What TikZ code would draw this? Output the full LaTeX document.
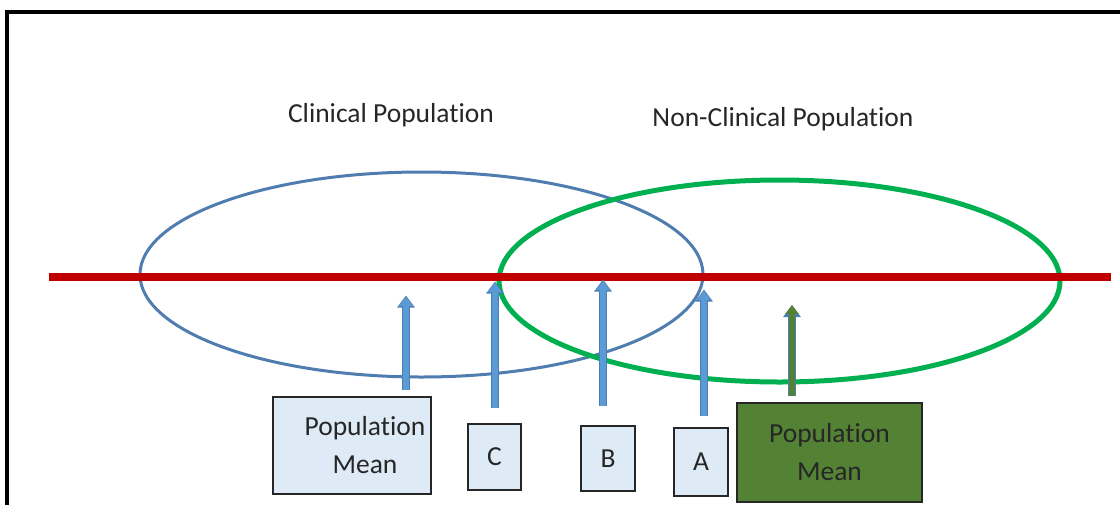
\documentclass[tikz,border=0pt]{standalone}
\usepackage{fontspec}
\setmainfont{Carlito}[Ligatures={NoCommon}]
\usetikzlibrary{arrows.meta}
\definecolor{redline}{HTML}{C00000}
\definecolor{clinblue}{HTML}{4F7DAF}
\definecolor{ncgreen}{HTML}{00B050}
\definecolor{arrowblue}{HTML}{5B9BD5}
\definecolor{arrowedge}{HTML}{4A7EB5}
\definecolor{boxblue}{HTML}{DEEBF7}
\definecolor{meangreen}{HTML}{548235}
\tikzset{
  lbl/.style={font=\fontsize{27.5}{32}\selectfont, text=black!85},
  boxtxt/.style={font=\fontsize{27.5}{38}\selectfont, align=center, text=black!85},
  valbox/.style={draw=black!85, line width=2pt, fill=boxblue, inner sep=0pt},
  shaftedge/.style={draw=arrowedge, line width=8pt, -{Triangle[width=17pt,length=12pt]}},
  shaft/.style={draw=arrowblue, line width=5.5pt, -{Triangle[width=13pt,length=9pt]}},
}
\begin{document}
\begin{tikzpicture}[x=1pt,y=-1pt]
\useasboundingbox (0,0) rectangle (1120,504);
% outer frame (runs off the right and bottom edges)
\draw[line width=3.5pt, black] (1130,12) -- (7,12) -- (7,515);

% titles
\node[lbl] (tclin) at (391,115) {Clinical Population};
\node[lbl] (tnon) at (783,119) {Non-Clinical Population};

% population ellipses
\draw[clinblue, line width=3pt] (421.5,274.5) ellipse [x radius=281.5, y radius=102.5];
\draw[ncgreen, line width=5pt] (779.5,281) ellipse [x radius=280.5, y radius=101];

% axis
\draw[redline, line width=8pt] (49,277) -- (1111,277);

% value boxes
\node[valbox, minimum width=158pt, minimum height=97pt] (pmc) at (352,445.5) {};
\node[boxtxt] (pmctxt) at (365,445.5) {Population\\Mean};
\node[valbox, minimum width=53pt, minimum height=66pt, boxtxt] (bc) at (494.5,457) {C};
\node[valbox, minimum width=54pt, minimum height=65pt, boxtxt] (bb) at (608,458.5) {B};
\node[valbox, minimum width=54pt, minimum height=68pt, boxtxt] (ba) at (701,462) {A};
\node[valbox, fill=meangreen, minimum width=185pt, minimum height=99pt, boxtxt] (pmn) at (829.5,452.5) {Population\\Mean};

% arrow end points
\coordinate (s1) at (406,390);  \coordinate (e1) at (406,297);
\coordinate (sc) at (495,408);  \coordinate (ec) at (495,283);
\coordinate (sb) at (603,406);  \coordinate (eb) at (603,281);
\coordinate (sa) at (704,416);  \coordinate (ea) at (704,291);
\coordinate (sn) at (792,396);  \coordinate (en) at (792,305);

% block arrows
\foreach \s/\e in {s1/e1, sc/ec, sb/eb, sa/ea}{
  \draw[shaftedge, shorten >=-1.5pt] (\s) -- (\e);
  \draw[shaft] (\s) -- (\e);
}
\draw[shaftedge] (sn) -- (en);
\draw[shaft, draw=meangreen, -{Triangle[width=13pt,length=9pt]}] (sn) -- (en);
\end{tikzpicture}
\end{document}
